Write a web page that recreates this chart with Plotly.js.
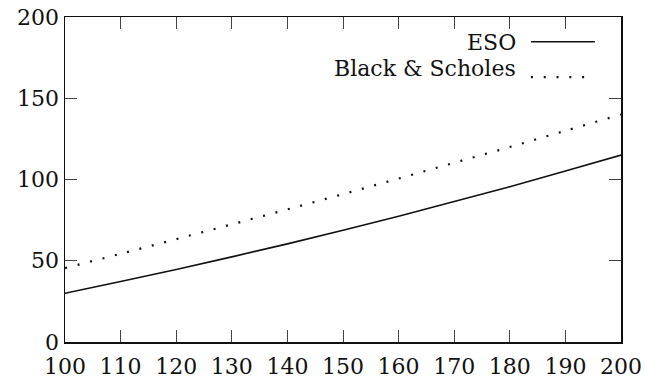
<!DOCTYPE html>
<html>
<head>
<meta charset="utf-8">
<script src="https://cdn.plot.ly/plotly-3.0.1.min.js"></script>
<style>html,body{margin:0;padding:0;background:#fff;}#chart{width:645px;height:382px;}</style>
</head>
<body>
<div id="chart"></div>
<script>
const xValues = [100, 110, 120, 130, 140, 150, 160, 170, 180, 190, 200];
const esoValues = [30, 37.2, 44.6, 52.4, 60.4, 68.8, 77.4, 86.4, 95.6, 105.2, 115];
const bsValues = [45.5, 54.3, 63.3, 72.4, 81.6, 91.0, 100.6, 110.3, 120.0, 130.0, 140];
const seriesNames = ["ESO", "Black & Scholes"];
const xTicks = [100, 110, 120, 130, 140, 150, 160, 170, 180, 190, 200];
const yTicks = [0, 50, 100, 150, 200];

const serif = "DejaVu Serif";

const traces = [
  {x: xValues, y: esoValues, name: seriesNames[0], mode: "lines",
   line: {color: "#111", width: 1.6, shape: "spline"}, showlegend: false},
  {x: xValues, y: bsValues, name: seriesNames[1], mode: "lines",
   line: {color: "#111", width: 2.2, dash: "2px,10.8px", shape: "spline"}, showlegend: false}
];

const layout = {
  width: 645, height: 382,
  margin: {l: 65, r: 24, t: 17, b: 40},
  paper_bgcolor: "#fff", plot_bgcolor: "#fff",
  font: {family: serif, size: 22, color: "#111"},
  xaxis: {range: [100, 200], tickvals: xTicks, ticktext: xTicks.map(String),
    ticks: "inside", ticklen: 12, tickwidth: 1, tickcolor: "#444",
    showline: true, linecolor: "#111", linewidth: 1.5, mirror: "ticks",
    ticklabelstandoff: 4,
    showgrid: false, zeroline: false, tickfont: {family: serif, size: 22, color: "#111"}},
  yaxis: {range: [0, 200], tickvals: yTicks, ticktext: yTicks.map(String),
    ticks: "inside", ticklen: 12, tickwidth: 1, tickcolor: "#444",
    showline: true, linecolor: "#111", linewidth: 1.5, mirror: "ticks",
    showgrid: false, zeroline: false, tickfont: {family: serif, size: 22, color: "#111"}},
  annotations: [
    {xref: "paper", yref: "paper", x: 0.815, y: 0.92, xanchor: "right", yanchor: "middle",
     text: seriesNames[0], showarrow: false, font: {family: serif, size: 22, color: "#111"}},
    {xref: "paper", yref: "paper", x: 0.815, y: 0.843, xanchor: "right", yanchor: "middle",
     text: "Black &amp; Scholes", showarrow: false, font: {family: serif, size: 22, color: "#111"}}
  ],
  shapes: [
    {type: "line", xref: "paper", yref: "paper", x0: 0.838, x1: 0.953, y0: 0.924, y1: 0.924,
     line: {color: "#111", width: 1.6}},
    {type: "line", xref: "paper", yref: "paper", x0: 0.838, x1: 0.953, y0: 0.815, y1: 0.815,
     line: {color: "#111", width: 2.2, dash: "2px,10.8px"}}
  ]
};

Plotly.newPlot("chart", traces, layout, {staticPlot: true, displayModeBar: false});
</script>
</body>
</html>
